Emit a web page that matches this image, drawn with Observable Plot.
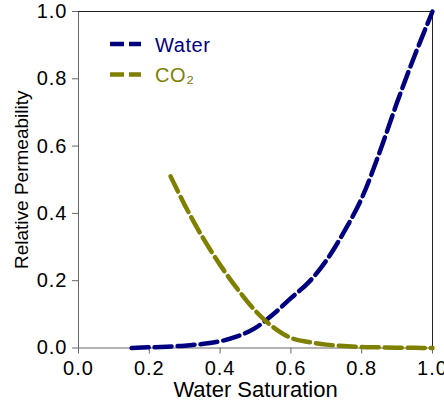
<!DOCTYPE html>
<html>
<head>
<meta charset="utf-8">
<script src="https://cdn.jsdelivr.net/npm/d3@7"></script>
<script src="https://cdn.jsdelivr.net/npm/@observablehq/plot@0.6"></script>
<style>
  html, body { margin: 0; padding: 0; background: white; }
  #chart { width: 444px; height: 404px; }
</style>
</head>
<body>
<div id="chart"></div>
<script>
// Water relative permeability
const waterSw = [0.15, 0.2, 0.25, 0.3, 0.35, 0.4, 0.45, 0.5, 0.55, 0.6, 0.65, 0.7, 0.75, 0.8, 0.85, 0.9, 0.95, 1.0];
const waterKr = [0.0, 0.002, 0.004, 0.007, 0.012, 0.02, 0.035, 0.06, 0.1, 0.148, 0.195, 0.26, 0.345, 0.445, 0.58, 0.73, 0.87, 1.0];
// CO2 relative permeability
const co2Sw = [0.26, 0.3, 0.35, 0.4, 0.45, 0.5, 0.55, 0.6, 0.65, 0.7, 0.75, 0.8, 0.85, 0.9, 0.95, 1.0];
const co2Kr = [0.51, 0.425, 0.33, 0.247, 0.174, 0.11, 0.062, 0.03, 0.018, 0.01, 0.006, 0.003, 0.002, 0.001, 0.0005, 0.0];
// Ticks and labels
const axisTicks = [0, 0.2, 0.4, 0.6, 0.8, 1.0];
const xTitle = "Water Saturation";
const yTitle = "Relative Permeability";
const seriesNames = ["Water", "CO₂"];
const seriesColors = ["#000080", "#808000"];

const water = waterSw.map((s, i) => ({sw: s, kr: waterKr[i]}));
const co2 = co2Sw.map((s, i) => ({sw: s, kr: co2Kr[i]}));
const fmt = d => d.toFixed(1);

const chart = Plot.plot({
  width: 444,
  height: 404,
  marginLeft: 78,
  marginRight: 12,
  marginTop: 11,
  marginBottom: 56.5,
  style: {fontFamily: "'Liberation Sans', Arial, sans-serif", fontSize: "20px", color: "black", background: "white"},
  x: {domain: [0, 1]},
  y: {domain: [0, 1]},
  marks: [
    Plot.axisX({ticks: axisTicks, tickFormat: fmt, tickSize: 6, tickPadding: 7, stroke: "#666", label: null}),
    Plot.axisY({ticks: axisTicks, tickFormat: fmt, tickSize: 6, tickPadding: 5, stroke: "#666", label: null}),
    Plot.ruleY([0], {stroke: "#666"}),
    Plot.ruleX([0], {stroke: "#666"}),
    Plot.ruleY([1], {stroke: "#222"}),
    Plot.ruleX([1], {stroke: "#222"}),
    Plot.line(water, {x: "sw", y: "kr", stroke: seriesColors[0], strokeWidth: 4.5, strokeDasharray: "17,6", curve: "catmull-rom"}),
    Plot.line(co2, {x: "sw", y: "kr", stroke: seriesColors[1], strokeWidth: 4.5, strokeDasharray: "17,6", curve: "catmull-rom"}),
    Plot.text([xTitle], {frameAnchor: "bottom", textAnchor: "middle", lineAnchor: "middle", dy: 42, fontSize: 22, fill: "black", text: d => d}),
    Plot.text([yTitle], {frameAnchor: "left", textAnchor: "middle", lineAnchor: "middle", dx: -57, rotate: -90, fontSize: 19, fill: "black", text: d => d})
  ]
});

document.getElementById("chart").appendChild(chart);

// letter spacing for horizontal texts (reference glyphs are slightly wide)
d3.select(chart).selectAll("g[aria-label='x-axis tick label'] text, g[aria-label='y-axis tick label'] text")
  .style("letter-spacing", "1px");

// Legend (layout in pixels, top-left of plot area)
const svg = d3.select(chart);
const leg = svg.append("g").attr("class", "legend").attr("text-anchor", "start");
seriesNames.forEach((name, i) => {
  const y = 44 + i * 30.5;
  leg.append("line")
    .attr("x1", 110).attr("x2", 141).attr("y1", y).attr("y2", y)
    .attr("stroke", seriesColors[i]).attr("stroke-width", 4.5).attr("stroke-dasharray", "14,5");
  leg.append("text")
    .attr("x", 155).attr("y", y + 7.5)
    .attr("fill", seriesColors[i])
    .attr("text-anchor", "start")
    .attr("font-size", 20)
    .style("letter-spacing", "0.6px")
    .text(name);
});
</script>
</body>
</html>
